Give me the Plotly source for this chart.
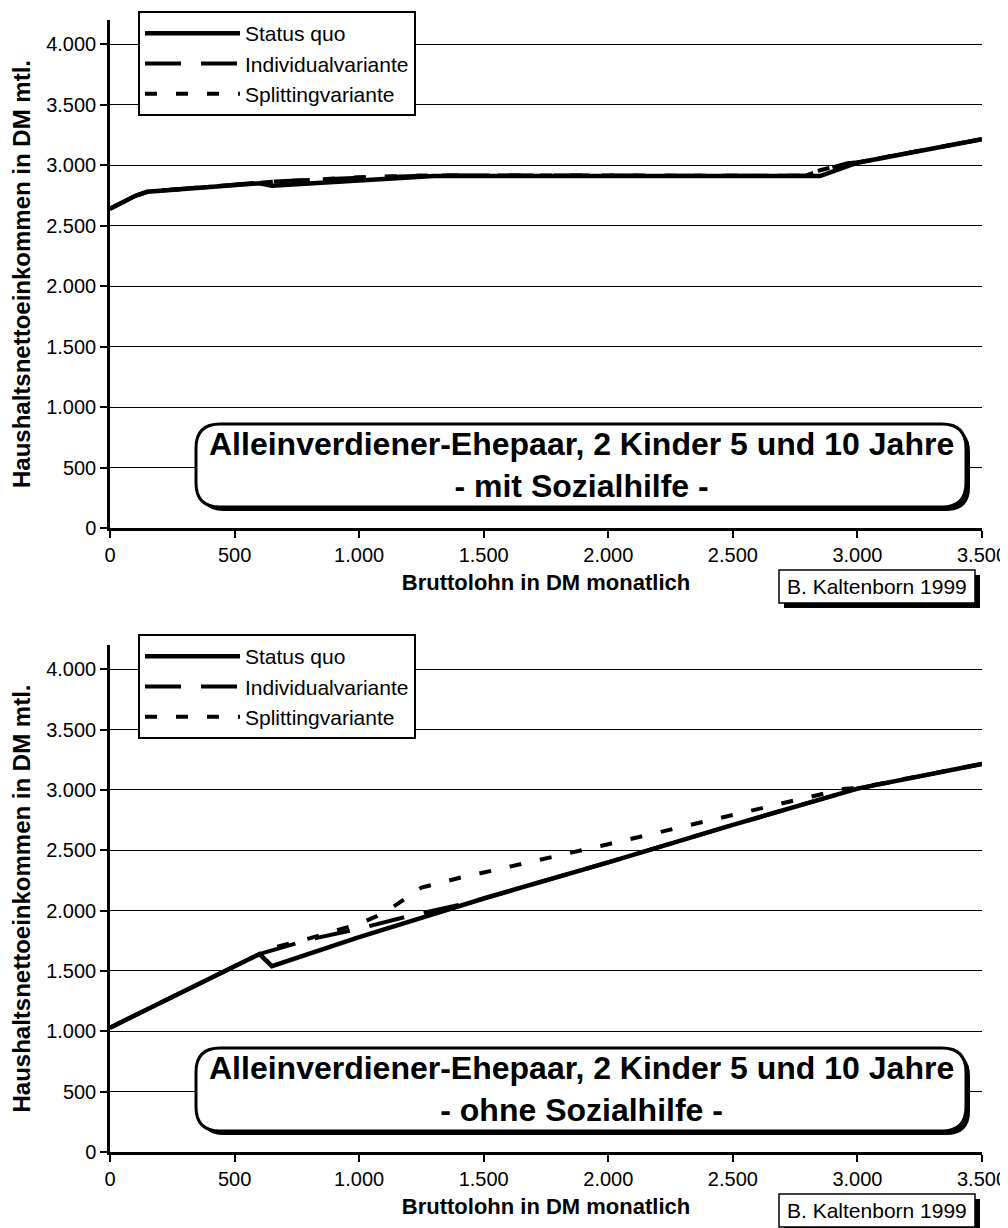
import plotly.graph_objects as go

# --- data: mit Sozialhilfe (oben) ---
sq_top_x = [0, 100, 150, 600, 650, 1300, 2850, 3000, 3500]
sq_top_y = [2640, 2745, 2780, 2850, 2830, 2910, 2910, 3020, 3215]
ind_top_x = [0, 100, 150, 600, 650, 1000, 1300, 2790, 2850, 2960, 3000, 3500]
ind_top_y = [2640, 2745, 2780, 2855, 2865, 2895, 2915, 2912, 2955, 3015, 3022, 3215]
spl_top_x = [0, 100, 150, 600, 650, 1000, 1300, 2790, 2850, 2960, 3000, 3500]
spl_top_y = [2640, 2745, 2780, 2855, 2862, 2900, 2915, 2912, 2958, 3015, 3022, 3215]

# --- data: ohne Sozialhilfe (unten) ---
sq_bot_x = [0, 600, 650, 750, 1000, 1250, 1500, 2000, 2500, 3000, 3500]
sq_bot_y = [1030, 1640, 1540, 1610, 1780, 1940, 2100, 2400, 2710, 3010, 3215]
ind_bot_x = [0, 600, 650, 800, 1000, 1200, 1450, 1500, 2000, 2500, 3000, 3500]
ind_bot_y = [1030, 1640, 1670, 1760, 1850, 1955, 2070, 2100, 2400, 2710, 3010, 3215]
spl_bot_x = [0, 600, 650, 800, 1000, 1100, 1250, 1400, 1500, 2000, 2500, 2750, 2950, 3000, 3500]
spl_bot_y = [1030, 1640, 1690, 1770, 1890, 1980, 2190, 2270, 2315, 2550, 2790, 2915, 3010, 3015, 3215]

series_names = ["Status quo", "Individualvariante", "Splittingvariante"]
x_ticks = [0, 500, 1000, 1500, 2000, 2500, 3000, 3500]
y_ticks = [0, 500, 1000, 1500, 2000, 2500, 3000, 3500, 4000]

FONT = "Liberation Sans, Arial, sans-serif"
OFF = 8  # page body margin in the browser
W, H = 1000, 1220
L, R, T, B = 110 - OFF, 26, 20 - OFF, 76
PW, PH = W - L - R, H - T - B
BASE = H - B  # figure pixel y of paper 0

# positions below are given in screen pixels and converted to paper units
def px(v):
    return (v - OFF - L) / PW

def py(v):
    return (BASE - (v - OFF)) / PH

def rounded_path(x0, y0, x1, y1, r):
    p = [
        f"M{px(x0 + r)},{py(y0)}",
        f"L{px(x1 - r)},{py(y0)}",
        f"Q{px(x1)},{py(y0)} {px(x1)},{py(y0 + r)}",
        f"L{px(x1)},{py(y1 - r)}",
        f"Q{px(x1)},{py(y1)} {px(x1 - r)},{py(y1)}",
        f"L{px(x0 + r)},{py(y1)}",
        f"Q{px(x0)},{py(y1)} {px(x0)},{py(y1 - r)}",
        f"L{px(x0)},{py(y0 + r)}",
        f"Q{px(x0)},{py(y0)} {px(x0 + r)},{py(y0)}",
        "Z",
    ]
    return " ".join(p)

styles = [
    dict(color="black", width=4.5),
    dict(color="black", width=4, dash="36px,20px"),
    dict(color="black", width=4, dash="12px,19px"),
]

fig = go.Figure()
top = [(sq_top_x, sq_top_y), (ind_top_x, ind_top_y), (spl_top_x, spl_top_y)]
bot = [(sq_bot_x, sq_bot_y), (ind_bot_x, ind_bot_y), (spl_bot_x, spl_bot_y)]
for (xs, ys), name, st in zip(top, series_names, styles):
    fig.add_trace(go.Scatter(x=xs, y=ys, mode="lines", name=name, line=st,
                             xaxis="x", yaxis="y", legend="legend"))
for (xs, ys), name, st in zip(bot, series_names, styles):
    fig.add_trace(go.Scatter(x=xs, y=ys, mode="lines", name=name, line=st,
                             xaxis="x2", yaxis="y2", legend="legend2"))

top_dom = [py(528), 1.0]
bot_dom = [0.0, py(645)]

xax = dict(range=[0, 3500], tickvals=x_ticks, tickformat=",d", showgrid=False,
           zeroline=False, showline=True, linecolor="black", linewidth=2.5,
           ticks="outside", ticklen=7, tickwidth=2, tickcolor="black",
           automargin=False,
           tickfont=dict(size=20, color="black", family=FONT),
           title=dict(text="<b>Bruttolohn in DM monatlich</b>", standoff=10,
                      font=dict(size=22, color="black", family=FONT)))
yax = dict(range=[0, 4200], tickvals=y_ticks, tickformat=",d", showgrid=True,
           gridcolor="black", gridwidth=1, zeroline=False, showline=True,
           linecolor="black", linewidth=2.5, ticks="outside", ticklen=7,
           tickwidth=2, tickcolor="black", automargin=False,
           tickfont=dict(size=20, color="black", family=FONT),
           title=dict(text="<b>Haushaltsnettoeinkommen in DM mtl.</b>", standoff=18,
                      font=dict(size=24, color="black", family=FONT)))

legend_style = dict(bgcolor="white", bordercolor="black", borderwidth=2,
                    font=dict(size=21, color="black", family=FONT),
                    xanchor="left", yanchor="top", itemwidth=95,
                    tracegroupgap=0)

shapes = []
annotations = []
for dy, label in [(0, "- mit Sozialhilfe -"), (624, "- ohne Sozialhilfe -")]:
    shapes.append(dict(type="path", xref="paper", yref="paper",
                       path=rounded_path(200, 428 + dy, 970, 511 + dy, 24),
                       fillcolor="black", line=dict(width=0)))
    shapes.append(dict(type="path", xref="paper", yref="paper",
                       path=rounded_path(196, 424 + dy, 966, 507 + dy, 24),
                       fillcolor="white", line=dict(color="black", width=3)))
    annotations.append(dict(xref="paper", yref="paper", x=px(581), y=py(465 + dy),
                            text="<b>Alleinverdiener-Ehepaar, 2 Kinder 5 und 10 Jahre"
                                 "<br>" + label + "</b>",
                            showarrow=False, xanchor="center", yanchor="middle",
                            font=dict(size=32, color="black", family=FONT)))
    ky = 570 + dy
    shapes.append(dict(type="rect", xref="paper", yref="paper",
                       x0=px(784), x1=px(980), y0=py(ky + 5), y1=py(ky + 38),
                       fillcolor="black", line=dict(width=0)))
    shapes.append(dict(type="rect", xref="paper", yref="paper",
                       x0=px(779), x1=px(975), y0=py(ky), y1=py(ky + 33),
                       fillcolor="white", line=dict(color="black", width=1.5)))
    annotations.append(dict(xref="paper", yref="paper", x=px(877), y=py(ky + 16.5),
                            text="B. Kaltenborn 1999", showarrow=False,
                            xanchor="center", yanchor="middle",
                            font=dict(size=21, color="black", family=FONT)))

fig.update_layout(
    width=W, height=H,
    margin=dict(l=L, r=R, t=T, b=B, autoexpand=False),
    paper_bgcolor="white", plot_bgcolor="white",
    separators=",.",
    font=dict(family=FONT, color="black"),
    xaxis=dict(xax, anchor="y"),
    yaxis=dict(yax, domain=top_dom, anchor="x"),
    xaxis2=dict(xax, anchor="y2"),
    yaxis2=dict(yax, domain=bot_dom, anchor="x2"),
    legend=dict(legend_style, x=px(138), y=py(11)),
    legend2=dict(legend_style, x=px(138), y=py(634)),
    shapes=shapes,
    annotations=annotations,
    showlegend=True,
)

fig.write_html("out.html")
